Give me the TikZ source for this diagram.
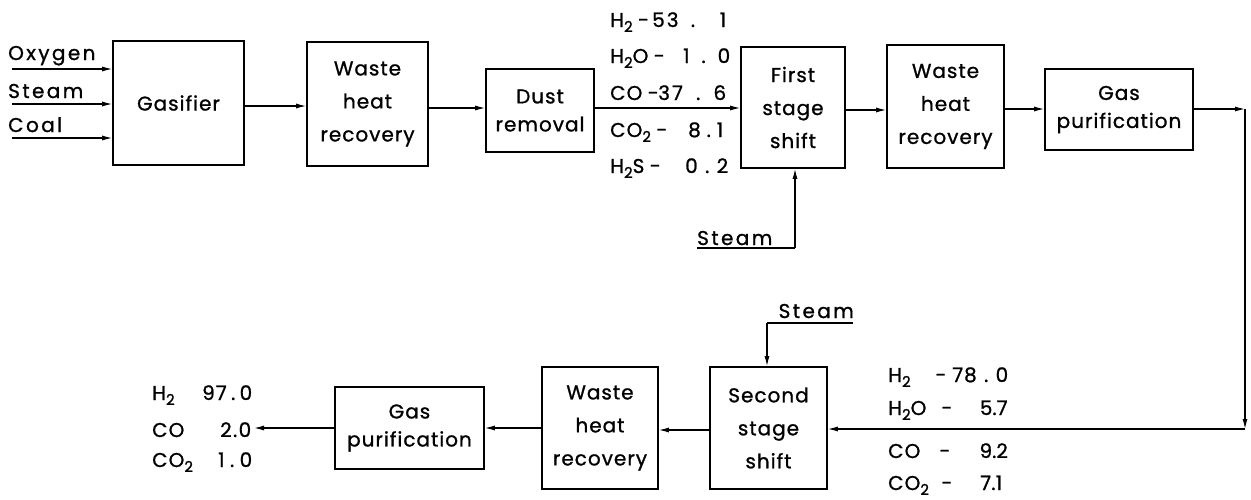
\documentclass[tikz,border=0pt]{standalone}
\usepackage{fontspec}
\setmainfont[LetterSpace=5,FakeBold=1]{Poppins}
\newfontfamily\widefont[LetterSpace=12,FakeBold=1]{Poppins}
\usetikzlibrary{arrows.meta}
\newcommand\lsub[1]{\raisebox{-5pt}{\fontsize{15}{15}\selectfont #1}}
\newcommand\spn[2]{\makebox[#1pt]{#2}}
\begin{document}
\begin{tikzpicture}[x=1pt,y=-1pt,
  box/.style={draw,line width=1.6pt,inner sep=0pt,align=center},
  three/.style={font=\fontsize{20}{33}\selectfont},
  two/.style={font=\fontsize{20}{28}\selectfont},
  flow/.style={line width=1.2pt,-{Latex[length=10pt,width=5pt]}},
  plain/.style={line width=1.2pt},
  lbl/.style={font=\fontsize{20}{20}\selectfont,inner sep=0pt},
  wlbl/.style={font=\widefont\fontsize{20}{20}\selectfont,inner sep=0pt},
]
\useasboundingbox (0,0) rectangle (1251,499);

% top row boxes
\node[box,three,minimum width=131pt,minimum height=124pt] (gas) at (178.5,103) {Gasifier};
\node[box,three,minimum width=121pt,minimum height=124pt] (whr1) at (367.5,104) {Waste\\heat\\recovery};
\node[box,two,minimum width=108pt,minimum height=83pt] (dust) at (540,110.5) {Dust\\removal};
\node[box,three,minimum width=104pt,minimum height=121pt] (fss) at (793,107.5) {First\\stage\\shift};
\node[box,three,minimum width=117pt,minimum height=123pt] (whr2) at (945.5,106.5) {Waste\\heat\\recovery};
\node[box,two,minimum width=148pt,minimum height=81pt] (gp1) at (1119,109.5) {Gas\\purification};

% bottom row boxes
\node[box,three,minimum width=117pt,minimum height=122pt] (sss) at (768.5,428) {Second\\stage\\shift};
\node[box,three,minimum width=116pt,minimum height=122pt] (whr3) at (600,428) {Waste\\heat\\recovery};
\node[box,two,minimum width=149pt,minimum height=82pt] (gp2) at (409.5,428) {Gas\\purification};

% inputs to gasifier
\node[wlbl,anchor=base west] (lox) at (8,60) {Oxygen};
\node[wlbl,anchor=base west] (lst) at (8,98) {Steam};
\node[wlbl,anchor=base west] (lco) at (8,132) {Coal};
\coordinate (iox) at (12,69);
\coordinate (ist) at (12,104);
\coordinate (ico) at (12,138);
\draw[flow] (iox) -- (iox -| gas.west);
\draw[flow] (ist) -- (ist -| gas.west);
\draw[flow] (ico) -- (ico -| gas.west);

% top row connectors
\coordinate (y106) at (0,106);
\coordinate (y108) at (0,108);
\coordinate (y110) at (0,110);
\coordinate (y109) at (0,109);
\draw[flow] (gas.east |- y106) -- (whr1.west |- y106);
\draw[flow] (whr1.east |- y108) -- (dust.west |- y108);
\draw[flow] (dust.east |- y108) -- (fss.west |- y108);
\draw[flow] (fss.east |- y110) -- (whr2.west |- y110);
\draw[flow] (whr2.east |- y109) -- (gp1.west |- y109);

% loop down to second stage
\coordinate (c1) at (1245,109);
\coordinate (c2) at (1245,429);
\draw[flow] (gp1.east |- c1) -- (c1);
\draw[flow] (c1) -- (c2);
\draw[flow] (c2) -- (sss.east |- c2);

% bottom row connectors
\coordinate (y430) at (0,430);
\coordinate (y428) at (0,428);
\draw[flow] (sss.west |- y430) -- (whr3.east |- y430);
\draw[flow] (whr3.west |- y428) -- (gp2.east |- y428);
\coordinate (outp) at (254,428);
\draw[flow] (gp2.west |- y428) -- (outp);

% steam to first stage shift
\node[wlbl,anchor=base west] (stm1) at (697,245) {Steam};
\coordinate (s1a) at (697,248);
\coordinate (s1b) at (795,248);
\draw[plain] (s1a) -- (s1b);
\draw[flow] (s1b) -- (s1b |- fss.south);

% steam to second stage shift
\node[wlbl,anchor=base east] (stm2) at (854,318) {Steam};
\coordinate (s2a) at (853,323);
\coordinate (s2b) at (767,323);
\draw[plain] (s2a) -- (s2b);
\draw[flow] (s2b) -- (s2b |- sss.north);

% composition after dust removal
\foreach \n/\f/\x/\w/\v/\y in {
  1/{H\lsub{2}}/652/74/{5\kern2pt3\hfill.\hfill\hfill1}/27,
  2/{H\lsub{2}O}/683/47/{1\hfill.\hfill0}/63,
  3/{CO}/658/68/{3\kern2pt7\hfill.\hfill6}/100,
  4/{CO\lsub{2}}/688/35/{8\hfill.\hfill1}/137,
  5/{H\lsub{2}S}/685/43/{0\hfill.\hfill2}/173}{
  \node[lbl,anchor=base west] (ca\n) at (610,\y) {\f};
  \node[lbl,anchor=base west] (cad\n) at ([xshift=5pt]ca\n.base east) {-};
  \node[lbl,anchor=base west] (cav\n) at (\x,\y) {\spn{\w}{\v}};
}

% composition before second stage
\foreach \n/\f/\d/\x/\w/\v/\y in {
  1/{H\lsub{2}}/941/952/56/{7\kern1pt8\hfill.\hfill0}/382,
  2/{H\lsub{2}O}/947/980/27/{5\hfill.\hfill7}/415,
  3/{CO}/945/980/27/{9\hfill.\hfill2}/458,
  4/{CO\lsub{2}}/947/980/22/{7\hfill.\hfill1}/490}{
  \node[lbl,anchor=base west] (cb\n) at (888,\y) {\f};
  \node[lbl,anchor=base] (cbd\n) at (\d,\y) {-};
  \node[lbl,anchor=base west] (cbv\n) at (\x,\y) {\spn{\w}{\v}};
}

% product composition
\foreach \n/\f/\x/\w/\v/\y in {
  1/{H\lsub{2}}/202/50/{9\kern1pt7\hfill.\hfill0}/400,
  2/{CO}/220/31/{2\hfill.\hfill0}/437,
  3/{CO\lsub{2}}/218/34/{1\hfill.\hfill0}/467}{
  \node[lbl,anchor=base west] (cc\n) at (152,\y) {\f};
  \node[lbl,anchor=base west] (ccv\n) at (\x,\y) {\spn{\w}{\v}};
}
\end{tikzpicture}
\end{document}
